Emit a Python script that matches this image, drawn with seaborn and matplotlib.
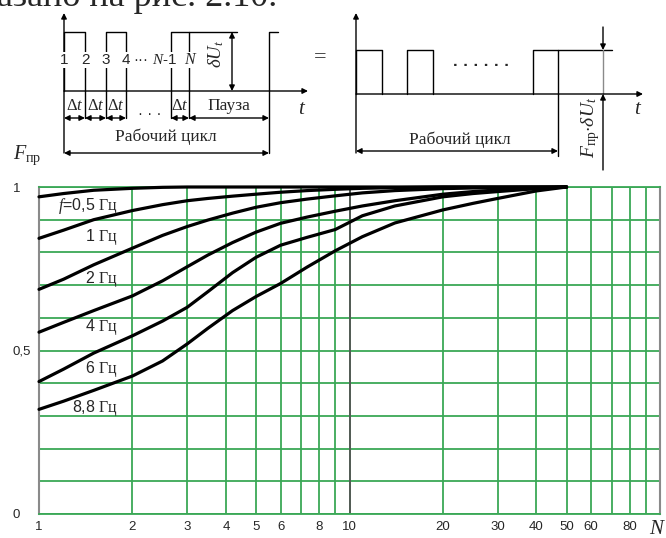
import pandas as pd
import seaborn as sns
import matplotlib.pyplot as plt
from matplotlib.ticker import FixedLocator, NullFormatter

sns.set_style("white")
plt.rcParams['font.family'] = ['Liberation Sans', 'DejaVu Sans']
plt.rcParams['mathtext.fontset'] = 'custom'
plt.rcParams['mathtext.rm'] = 'Liberation Serif'
plt.rcParams['mathtext.it'] = 'Liberation Serif:italic'
plt.rcParams['mathtext.bf'] = 'Liberation Serif:bold'

# curve data
N = [1, 1.2, 1.5, 2, 2.5, 3, 3.5, 4.2, 5, 6, 7.3, 9, 11, 14, 20, 25, 30, 40, 50]
f_labels = ["0,5", "1", "2", "4", "6", "8,8"]
F_05 = [0.970, 0.980, 0.990, 0.996, 0.999, 1.0, 1.0, 1.0, 1.0, 1.0, 1.0, 1.0, 1.0, 1.0,
        1.0, 1.0, 1.0, 1.0, 1.0]
F_1 = [0.843, 0.868, 0.900, 0.928, 0.946, 0.958, 0.965, 0.972, 0.978, 0.984, 0.989, 0.993,
       0.996, 0.998, 1.0, 1.0, 1.0, 1.0, 1.0]
F_2 = [0.687, 0.718, 0.762, 0.813, 0.852, 0.879, 0.899, 0.920, 0.938, 0.952, 0.963, 0.973,
       0.982, 0.989, 0.995, 0.997, 0.998, 0.999, 1.0]
F_4 = [0.556, 0.586, 0.622, 0.667, 0.713, 0.756, 0.792, 0.830, 0.862, 0.889, 0.908, 0.926,
       0.942, 0.958, 0.978, 0.986, 0.991, 0.996, 1.0]
F_6 = [0.405, 0.443, 0.492, 0.545, 0.590, 0.632, 0.680, 0.738, 0.785, 0.822, 0.846, 0.870,
       0.912, 0.942, 0.970, 0.980, 0.986, 0.995, 1.0]
F_88 = [0.320, 0.345, 0.378, 0.422, 0.468, 0.520, 0.568, 0.622, 0.665, 0.705, 0.755, 0.805,
        0.848, 0.890, 0.930, 0.950, 0.965, 0.988, 1.0]
curves = [F_05, F_1, F_2, F_4, F_6, F_88]

x_ticks = [1, 2, 3, 4, 5, 6, 8, 10, 20, 30, 40, 50, 60, 80]
x_minor = [7, 9, 70, 90]
y_ticks = [0, 0.5, 1]
y_ticklabels = ["0", "0,5", "1"]
y_minor = [0.1, 0.2, 0.3, 0.4, 0.6, 0.7, 0.8, 0.9]

# schematic pulse diagram (pixel positions)
pulses_a = [(64, 85), (106, 126), (171, 189)]
pulses_b = [(356, 382), (407, 433), (533, 558)]

rows = []
for lab, vals in zip(f_labels, curves):
    for n, v in zip(N, vals):
        rows.append({'N': n, 'F': v, 'f': lab})
df = pd.DataFrame(rows)

green = '#3aa856'
gray = '#8a8a8a'

fig = plt.figure(figsize=(6.66, 5.38), dpi=100)
ax = fig.add_axes([39 / 666, 24 / 538, 621 / 666, 327 / 538])

sns.lineplot(data=df, x='N', y='F', units='f', estimator=None, color='black',
             lw=2.3, legend=False, ax=ax, zorder=4)
for ln in ax.lines:
    ln.set_clip_on(False)
    ln.set_solid_joinstyle('round')

ax.set_xscale('log')
ax.set_xlim(1, 100)
ax.set_ylim(0, 1)
ax.set_xticks(x_ticks)
ax.set_xticklabels([str(t) for t in x_ticks])
ax.xaxis.set_minor_locator(FixedLocator(x_minor))
ax.xaxis.set_minor_formatter(NullFormatter())
ax.set_yticks(y_ticks)
ax.set_yticklabels(y_ticklabels)
ax.yaxis.set_minor_locator(FixedLocator(y_minor))
ax.grid(which='both', color=green, lw=1.3)
ax.axvline(10, color='#555555', lw=1.3, zorder=2)
ax.tick_params(which='both', length=0, labelsize=9.5)
ax.tick_params(axis='x', pad=5)
ax.tick_params(axis='y', pad=19)
for lbl in ax.get_yticklabels():
    lbl.set_horizontalalignment('left')
ax.set_xlabel('')
ax.set_ylabel('')
for side in ['left', 'right']:
    ax.spines[side].set_color(gray)
    ax.spines[side].set_linewidth(1.5)
for side in ['top', 'bottom']:
    ax.spines[side].set_color(green)
    ax.spines[side].set_linewidth(1.3)

# overlay in pixel coordinates for the diagram and labels
ov = fig.add_axes([0, 0, 1, 1], zorder=5)
ov.set_xlim(0, 666)
ov.set_ylim(538, 0)
ov.axis('off')
ov.patch.set_alpha(0)

serif = 'Liberation Serif'
lw = 1.0


def arrow(x1, y1, x2, y2, style='<|-|>', color='black', w=lw):
    ov.annotate('', xy=(x2, y2), xytext=(x1, y1),
                arrowprops=dict(arrowstyle=style, color=color, lw=w,
                                mutation_scale=8, shrinkA=0, shrinkB=0))


# cropped book text at the top
ov.text(-3, 6, "азано на рис. 2.10.", family=serif, fontsize=26, va='baseline', ha='left')

# left diagram
base_a, top_a = 91, 32
arrow(64, 153, 64, 13, style='-|>')
arrow(64, base_a, 308, base_a, style='-|>')
for x1, x2 in pulses_a:
    ov.plot([x1, x1, x2, x2], [base_a, top_a, top_a, base_a], color='black', lw=lw)
    ov.plot([x2, x2], [base_a, 118], color='black', lw=lw)
    if x1 != 64:
        ov.plot([x1, x1], [base_a, 118], color='black', lw=lw)
ov.plot([189, 237], [top_a, top_a], color='black', lw=lw)
ov.plot([269, 269, 278], [153, top_a, top_a], color='black', lw=lw)
arrow(232, top_a, 232, base_a)
for x1, x2 in pulses_a:
    arrow(x1, 118, x2, 118)
arrow(85, 118, 106, 118)
arrow(189, 118, 269, 118)
arrow(64, 153, 269, 153)

for x, s in zip([64, 85, 106, 126], ["1", "2", "3", "4"]):
    ov.text(x, 60, s, fontsize=11, ha='center', va='center',
            bbox=dict(fc='white', ec='none', pad=0.5))
ov.text(141, 60, "···", fontsize=11, ha='center', va='center')
ov.text(165, 60, "$N$-1", fontsize=11, ha='center', va='center',
        bbox=dict(fc='white', ec='none', pad=0.5))
ov.text(191, 60, "$N$", fontsize=11.5, ha='center', va='center',
        bbox=dict(fc='white', ec='none', pad=0.5))
ov.text(216, 54, r"$\delta U_t$", fontsize=13.5, ha='center', va='center', rotation=90)
for x in [75, 96, 116, 180]:
    ov.text(x, 106, r"$\Delta t$", fontsize=12, ha='center', va='center')
ov.text(150, 114, "· · ·", fontsize=11, ha='center', va='center')
ov.text(229, 106, "Пауза", family=serif, fontsize=12.5, ha='center', va='center')
ov.text(166, 137, "Рабочий цикл", family=serif, fontsize=12.5, ha='center', va='center')
ov.text(302, 108, "$t$", fontsize=15, ha='center', va='center')
ov.text(320, 58, "=", family=serif, fontsize=16, ha='center', va='center')

# right diagram
base_b, top_b = 94, 50
arrow(356, 153, 356, 13, style='-|>')
arrow(356, base_b, 643, base_b, style='-|>')
for x1, x2 in pulses_b:
    ov.plot([x1, x1, x2, x2], [base_b, top_b, top_b, base_b], color='black', lw=lw)
ov.plot([558, 612], [top_b, top_b], color='black', lw=lw)
ov.plot([558, 558], [base_b, 156], color='black', lw=lw)
ov.text(481, 66, "· · · · · ·", fontsize=12, fontweight='bold', ha='center', va='center')
arrow(356, 151, 558, 151)
ov.text(460, 140, "Рабочий цикл", family=serif, fontsize=12.5, ha='center', va='center')
ov.plot([603, 603], [top_b, base_b], color=gray, lw=lw)
arrow(603, 27, 603, top_b, style='-|>')
arrow(603, 170, 603, base_b, style='-|>')
ov.text(591, 127, r"$F_{\mathrm{пр}}{\cdot}\delta U_t$", fontsize=14, ha='center', va='center',
        rotation=90)
ov.text(638, 108, "$t$", fontsize=15, ha='center', va='center')

# chart labels
ov.text(13, 155, r"$F_{\mathrm{пр}}$", fontsize=14.5, ha='left', va='center')
ov.text(658, 528, "$N$", fontsize=15, ha='center', va='center')
label_y = [206, 237, 279, 327, 369, 408]
for lab, y in zip(f_labels, label_y):
    prefix = "$f$=" if lab == "0,5" else ""
    ov.text(118, y, prefix + lab + r" $\mathrm{Гц}$", fontsize=11.5, ha='right', va='center')

fig.savefig('out.png', dpi=100)
